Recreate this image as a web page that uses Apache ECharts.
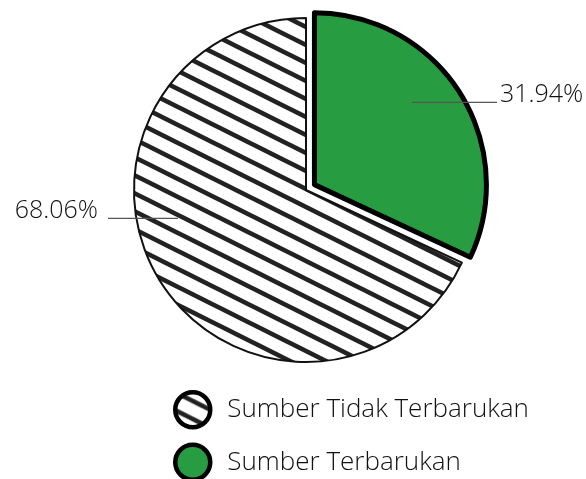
<!DOCTYPE html>
<html>
<head>
<meta charset="utf-8">
<script src="https://cdn.jsdelivr.net/npm/echarts@6/dist/echarts.min.js"></script>
<style>
  html, body { margin: 0; padding: 0; background: #fff; }
  .pie { width: 586px; height: 479px; }
</style>
</head>
<body>
<div class="pie"></div>
<script>
var names = ['Sumber Terbarukan', 'Sumber Tidak Terbarukan'];
var values = [31.94, 68.06];
var legendOrder = ['Sumber Tidak Terbarukan', 'Sumber Terbarukan'];

(function(){
    // diagonal stripe pattern for the non-renewable slice
    var tile = document.createElement('canvas');
    tile.width = 36;
    tile.height = 18;
    var ctx = tile.getContext('2d');
    ctx.fillStyle = '#fff';
    ctx.fillRect(0, 0, 36, 18);
    ctx.strokeStyle = '#222';
    ctx.lineWidth = 4.6;
    for (var n = -1; n <= 1; n++) {
        ctx.beginPath();
        ctx.moveTo(-36, -18 + 18 * n);
        ctx.lineTo(72, 36 + 18 * n);
        ctx.stroke();
    }
    var stripes = { image: tile, repeat: 'repeat' };

    var cx = 306, cy = 190, pull = 10;
    // the green slice is pulled out along its middle angle
    var mid = values[0] / (values[0] + values[1]) * Math.PI;
    var pulled = [cx + pull * Math.sin(mid), cy - pull * Math.cos(mid)];

    var font = 'Open Sans';
    var hidden = { color: 'transparent', borderWidth: 0 };
    var textRich = {
        tr: { fontFamily: font, fontWeight: 300, fontSize: 25, color: '#111', lineHeight: 16, padding: [0, 0, 0, 3] },
        tl: { fontFamily: font, fontWeight: 300, fontSize: 25, color: '#111', lineHeight: 16, padding: [0, 10, 0, 0] },
        l: { width: 85, height: 1.3, backgroundColor: '#555', verticalAlign: 'bottom' },
        r: { width: 70, height: 1.3, backgroundColor: '#555', verticalAlign: 'bottom' }
    };

    var mycharts = echarts.init(document.querySelector('.pie'));
    var option = {
        animation: false,
        legend: {
            orient: 'vertical',
            left: 173,
            top: 390,
            height: 120,
            padding: 0,
            data: legendOrder,
            icon: 'circle',
            itemWidth: 35,
            itemHeight: 35,
            itemGap: 13,
            itemStyle: { borderColor: '#000', borderWidth: 4.5 },
            textStyle: { fontFamily: font, fontWeight: 300, fontSize: 26, lineHeight: 30, color: '#111', padding: [0, 0, 0, 12] }
        },
        series: [
            {
                type: 'pie',
                center: [cx, cy],
                radius: 172,
                startAngle: 90,
                avoidLabelOverlap: false,
                emphasis: { disabled: true },
                label: {
                    show: true,
                    position: 'inside',
                    formatter: function (p) { return '{tl|' + p.value.toFixed(2) + '%}{r|}'; },
                    rich: textRich
                },
                labelLine: { show: false },
                labelLayout: function () {
                    return { x: 178, y: 211, align: 'right', verticalAlign: 'middle' };
                },
                data: [
                    { name: '_gap', value: values[0], silent: true, itemStyle: hidden, label: { show: false } },
                    { name: names[1], value: values[1], itemStyle: { color: stripes, borderColor: '#111', borderWidth: 2 } }
                ]
            },
            {
                type: 'pie',
                center: pulled,
                radius: 172,
                startAngle: 90,
                avoidLabelOverlap: false,
                emphasis: { disabled: true },
                label: {
                    show: true,
                    position: 'inside',
                    formatter: function (p) { return '{l|}{tr|' + p.value.toFixed(2) + '%}'; },
                    rich: textRich
                },
                labelLine: { show: false },
                labelLayout: function () {
                    return { x: 412, y: 95, align: 'left', verticalAlign: 'middle' };
                },
                data: [
                    { name: names[0], value: values[0], itemStyle: { color: '#279c41', borderColor: '#000', borderWidth: 5 } },
                    { name: '_rest', value: values[1], silent: true, itemStyle: hidden, label: { show: false } }
                ]
            }
        ]
    };
    mycharts.setOption(option);
})();
</script>
</body>
</html>
